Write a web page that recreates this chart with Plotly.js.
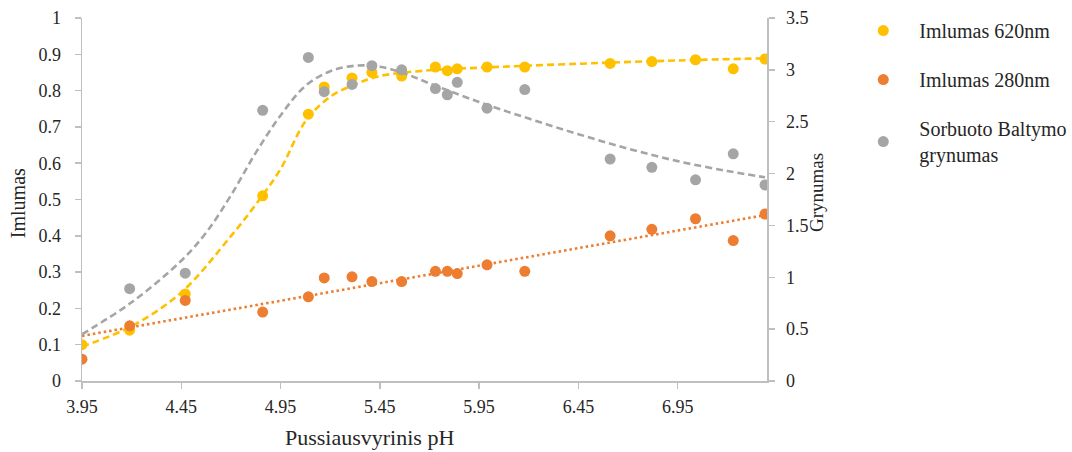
<!DOCTYPE html>
<html>
<head>
<meta charset="utf-8">
<script src="https://cdn.plot.ly/plotly-3.0.1.min.js"></script>
<style>
html,body{margin:0;padding:0;background:#fff;}
#chart{width:1072px;height:452px;}
</style>
</head>
<body>
<div id="chart"></div>
<script>
// ---- data ----
const pH = [3.95, 4.19, 4.47, 4.86, 5.09, 5.17, 5.31, 5.41, 5.56, 5.73, 5.79, 5.84, 5.99, 6.18, 6.61, 6.82, 7.04, 7.23, 7.39];
const imlumas620 = [0.10, 0.14, 0.24, 0.51, 0.735, 0.81, 0.835, 0.85, 0.84, 0.865, 0.855, 0.86, 0.865, 0.865, 0.875, 0.88, 0.885, 0.86, 0.887];
const imlumas280 = [0.06, 0.152, 0.222, 0.19, 0.232, 0.284, 0.287, 0.274, 0.274, 0.302, 0.302, 0.296, 0.32, 0.302, 0.40, 0.418, 0.447, 0.387, 0.46];
const grynumas = [null, 0.89, 1.04, 2.61, 3.12, 2.79, 2.86, 3.04, 3.00, 2.82, 2.76, 2.88, 2.63, 2.81, 2.14, 2.06, 1.94, 2.19, 1.89];

// trend curves
const trendPH620 = [3.95, 4.20, 4.45, 4.70, 4.825, 4.95, 5.075, 5.20, 5.325, 5.45, 5.70, 5.95, 6.45, 6.95, 7.39];
const trend620 = [0.095, 0.151, 0.244, 0.399, 0.486, 0.584, 0.715, 0.783, 0.817, 0.840, 0.856, 0.863, 0.874, 0.883, 0.889];
const trendPHGry = [3.95, 4.20, 4.45, 4.575, 4.70, 4.825, 4.95, 5.075, 5.20, 5.325, 5.45, 5.575, 5.70, 5.95, 6.20, 6.45, 6.70, 6.95, 7.20, 7.39];
const trendGry = [0.45, 0.759, 1.16, 1.43, 1.79, 2.20, 2.56, 2.845, 2.987, 3.04, 3.03, 2.965, 2.87, 2.69, 2.53, 2.38, 2.24, 2.12, 2.025, 1.964];

const seriesNames = ['Imlumas 620nm', 'Imlumas 280nm', 'Sorbuoto Baltymo<br>grynumas'];
const colors = ['#FFC000', '#ED7D31', '#A5A5A5'];
const xTitle = 'Pussiausvyrinis pH';
const yTitle = 'Imlumas';
const y2Title = 'Grynumas';

// linear least squares trendline for the 280nm series (computed from the data)
function linearFit(xs, ys) {
  let n = 0, sx = 0, sy = 0, sxx = 0, sxy = 0;
  xs.forEach((x, i) => { const y = ys[i]; if (y === null) return; n++; sx += x; sy += y; sxx += x * x; sxy += x * y; });
  const b = (n * sxy - sx * sy) / (n * sxx - sx * sx);
  const a = (sy - b * sx) / n;
  return x => a + b * x;
}
const f280 = linearFit(pH, imlumas280);
const trendPH280 = [pH[0], pH[pH.length - 1]];
const trend280 = trendPH280.map(f280);

const FONT = 'Liberation Serif, Times New Roman, serif';
const TXT = '#262626';
const AX = '#BFBFBF';

const traces = [
  {x: trendPH620, y: trend620, mode: 'lines', line: {color: colors[0], width: 2.6, dash: '7px,4px', shape: 'spline', smoothing: 1}, showlegend: false, hoverinfo: 'skip', yaxis: 'y'},
  {x: trendPH280, y: trend280, mode: 'lines', line: {color: colors[1], width: 2.6, dash: '2.5px,3px'}, showlegend: false, hoverinfo: 'skip', yaxis: 'y'},
  {x: trendPHGry, y: trendGry, mode: 'lines', line: {color: colors[2], width: 2.6, dash: '7px,4px', shape: 'spline', smoothing: 1}, showlegend: false, hoverinfo: 'skip', yaxis: 'y2'},
  {x: pH, y: imlumas620, name: seriesNames[0], mode: 'markers', marker: {color: colors[0], size: 11}, yaxis: 'y', legendgroup: 'a'},
  {x: pH, y: imlumas280, name: seriesNames[1], mode: 'markers', marker: {color: colors[1], size: 11}, yaxis: 'y', legendgroup: 'b'},
  {x: pH, y: grynumas, name: seriesNames[2], mode: 'markers', marker: {color: colors[2], size: 11}, yaxis: 'y2', legendgroup: 'c'}
];

const axisCommon = {
  showgrid: false, zeroline: false, showline: true, linecolor: AX, linewidth: 1.5,
  ticks: 'outside', ticklen: 6, tickcolor: AX, tickwidth: 1.5,
  tickfont: {family: FONT, size: 18, color: TXT}
};

const layout = {
  width: 1072, height: 452,
  margin: {l: 82, r: 305, t: 18, b: 71, pad: 0, autoexpand: false},
  paper_bgcolor: '#fff', plot_bgcolor: '#fff',
  font: {family: FONT, color: TXT},
  xaxis: Object.assign({}, axisCommon, {range: [3.95, 7.40], tick0: 3.95, dtick: 0.5, tickformat: '.2f', ticklabelstandoff: 3}),
  yaxis: Object.assign({}, axisCommon, {range: [0, 1], dtick: 0.1, ticklabelstandoff: 10}),
  yaxis2: Object.assign({}, axisCommon, {range: [0, 3.5], dtick: 0.5, overlaying: 'y', side: 'right', ticklabelstandoff: 8}),
  legend: {x: 1.1172, xanchor: 'left', y: 1.019, yanchor: 'top', font: {family: FONT, size: 20, color: TXT}, tracegroupgap: 20, itemwidth: 62},
  annotations: [
    {text: yTitle, xref: 'paper', yref: 'paper', x: -0.0934, y: 0.49, xanchor: 'center', yanchor: 'middle', textangle: -90, showarrow: false, font: {family: FONT, size: 20, color: TXT}},
    {text: y2Title, xref: 'paper', yref: 'paper', x: 1.073, y: 0.518, xanchor: 'center', yanchor: 'middle', textangle: -90, showarrow: false, font: {family: FONT, size: 19, color: TXT}},
    {text: xTitle, xref: 'paper', yref: 'paper', x: 0.42, y: -0.157, xanchor: 'center', yanchor: 'middle', showarrow: false, font: {family: FONT, size: 22, color: TXT}}
  ],
  showlegend: true
};

Plotly.newPlot('chart', traces, layout, {displayModeBar: false, staticPlot: true});
</script>
</body>
</html>
